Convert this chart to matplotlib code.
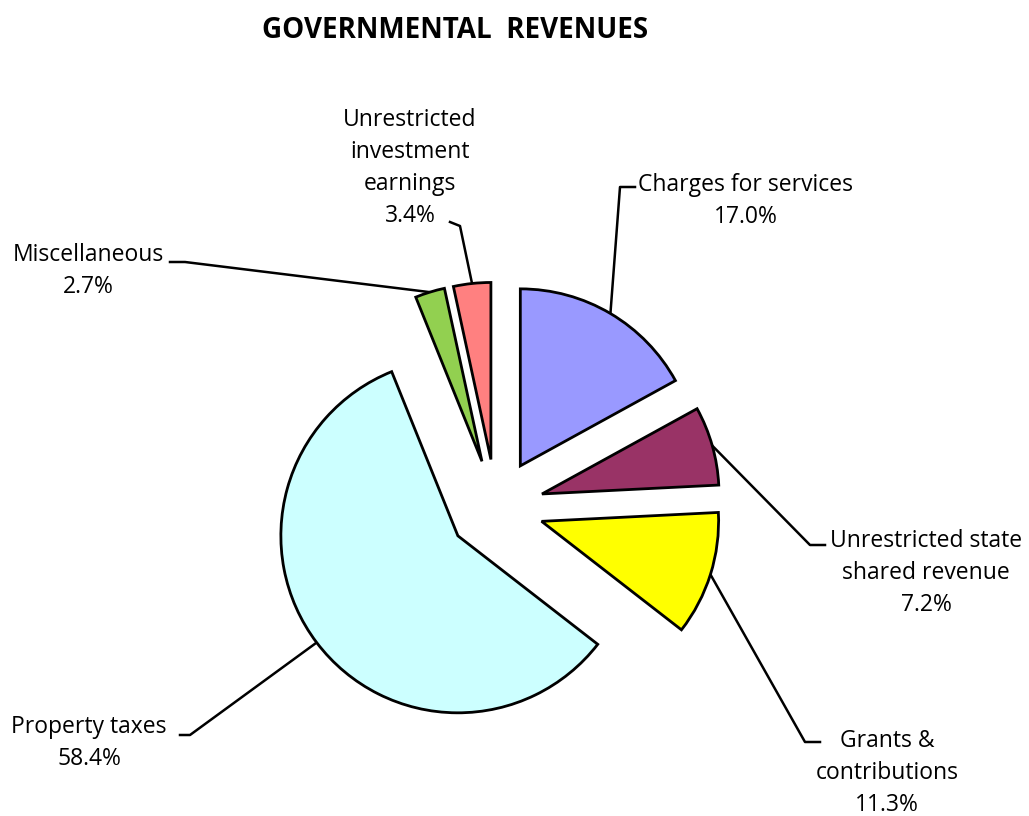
import numpy as np
import matplotlib.pyplot as plt

labels = ['Charges for services', 'Unrestricted state\nshared revenue', 'Grants &\ncontributions',
          'Property taxes', 'Miscellaneous', 'Unrestricted\ninvestment\nearnings']
values = [17.0, 7.2, 11.3, 58.4, 2.7, 3.4]
colors = ['#9999FF', '#993366', '#FFFF00', '#CCFFFF', '#92D050', '#FF8080']

# label text positions (pixels, top-left origin) and leader elbow points
label_pos = [(746, 201), (926, 573), (887, 773), (89, 743), (88, 271), (410, 168)]
elbows = [[(635, 187), (620, 187)], [(825, 545), (810, 545)], [(820, 742), (805, 742)],
          [(180, 735), (190, 735)], [(170, 262), (185, 262)], [(450, 222), (460, 226)]]

W, H = 1029, 816
plt.rcParams['font.family'] = ['Open Sans', 'DejaVu Sans']
fig = plt.figure(figsize=(W / 100, H / 100), dpi=100)
ax = fig.add_axes([0, 0, 1, 1])

cx, cy, r = 496, H - 507, 177
explode = [0.27 * r] * len(values)
wedges, _ = ax.pie(values, colors=colors, startangle=90, counterclock=False,
                   explode=explode, center=(cx, cy), radius=r,
                   wedgeprops=dict(edgecolor='black', linewidth=2))
ax.set_xlim(0, W)
ax.set_ylim(0, H)
ax.set_aspect('equal')
ax.axis('off')

for w, lab, v, pos, elb in zip(wedges, labels, values, label_pos, elbows):
    ang = np.deg2rad((w.theta1 + w.theta2) / 2)
    wx, wy = w.center
    ax_pt = (wx + r * np.cos(ang), wy + r * np.sin(ang))
    pts = [(x, H - y) for x, y in elb] + [ax_pt]
    ax.plot([p[0] for p in pts], [p[1] for p in pts], color='black', lw=1.8, zorder=0)
    ax.text(pos[0], H - pos[1], f'{lab}\n{v:.1f}%', ha='center', va='center',
            fontsize=16.5, linespacing=1.45)

ax.text(455, H - 30, 'GOVERNMENTAL  REVENUES', ha='center', va='center',
        fontsize=20, fontweight='bold')

fig.savefig('out.png', dpi=100)
